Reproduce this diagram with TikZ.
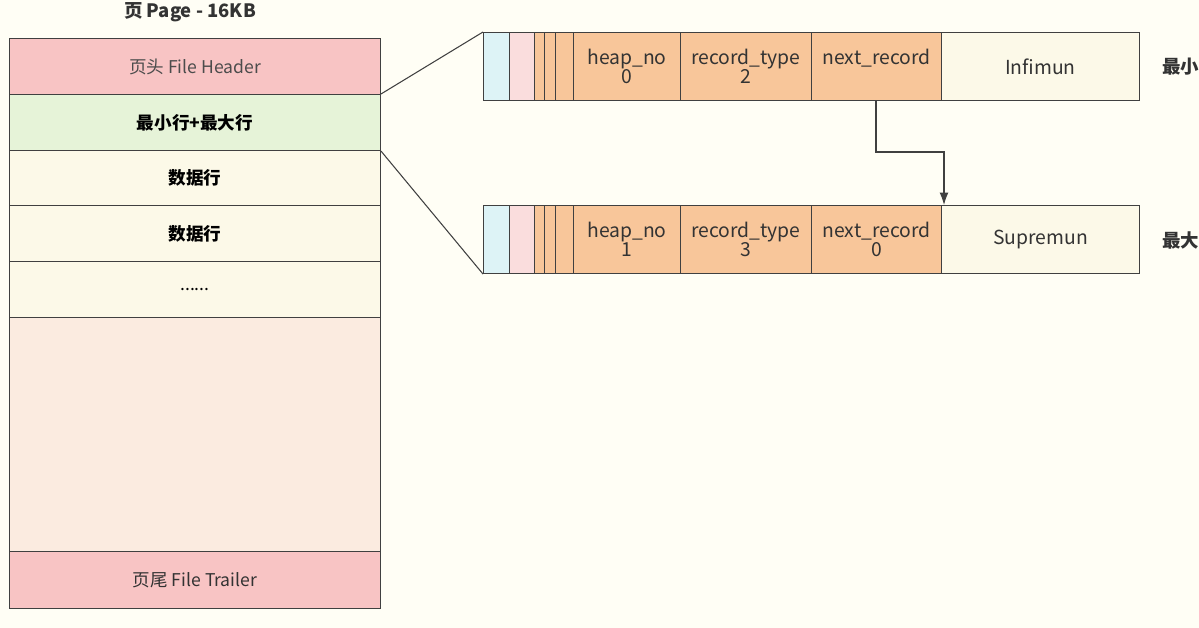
\documentclass[tikz,border=0pt]{standalone}
\usepackage{fontspec}
\setmainfont{Noto Sans CJK SC}
\begin{document}
\begin{tikzpicture}[x=0.02cm,y=-0.02cm,font=\fontsize{10}{12}\selectfont,
  box/.style={draw=black!75,line width=0.6pt},
  lbl/.style={text=black!80},
  rec/.style={box,fill=org,minimum height=1.36cm,anchor=north west,inner sep=0,align=center,lbl,font=\fontsize{11}{13}\selectfont},
  arr/.style={draw=black!75,line width=0.6pt,-{Latex[length=7pt,width=5pt]}}]
\usetikzlibrary{arrows.meta}
\definecolor{hdr}{HTML}{F8C4C4}
\definecolor{grn}{HTML}{E6F3D8}
\definecolor{crm}{HTML}{FCF9E8}
\definecolor{fre}{HTML}{FBEBE0}
\definecolor{cya}{HTML}{DDF3F6}
\definecolor{pnk}{HTML}{FADDDD}
\definecolor{org}{HTML}{F8C69A}
\fill[white!96!yellow] (0,0) rectangle (1199,628);
\useasboundingbox (0,0) rectangle (1199,628);
\clip (0,0) rectangle (1199,628);
\node[lbl,font=\fontsize{10.5}{12}\selectfont\bfseries] (title) at (190,12) {页 Page - 16KB};
% left column
\node[box,fill=hdr,minimum width=7.42cm,minimum height=1.12cm,anchor=north west,text=black!70] (fh) at (9,38) {页头 File Header};
\node[box,fill=grn,minimum width=7.42cm,minimum height=1.12cm,anchor=north west,font=\fontsize{10}{12}\selectfont\bfseries] (mm) at (9,94) {最小行+最大行};
\node[box,fill=crm,minimum width=7.42cm,minimum height=1.1cm,anchor=north west,font=\fontsize{10}{12}\selectfont\bfseries] (d1) at (9,150) {数据行};
\node[box,fill=crm,minimum width=7.42cm,minimum height=1.12cm,anchor=north west,font=\fontsize{10}{12}\selectfont\bfseries] (d2) at (9,205) {数据行};
\node[box,fill=crm,minimum width=7.42cm,minimum height=1.12cm,anchor=north west] (dots) at (9,261) {......};
\node[box,fill=fre,minimum width=7.42cm,minimum height=4.68cm,anchor=north west] (free) at (9,317) {};
\node[box,fill=hdr,minimum width=7.42cm,minimum height=1.14cm,anchor=north west,text=black!80] (ft) at (9,551) {页尾 File Trailer};
% records
\foreach \r/\y/\h/\t/\n/\name in {a/32/0/2/{}/Infimun, b/205/1/3/0/Supremun}{
  \node[box,fill=cya,minimum width=0.52cm,minimum height=1.36cm,anchor=north west,inner sep=0] (\r c) at (483,\y) {};
  \node[box,fill=pnk,minimum width=0.5cm,minimum height=1.36cm,anchor=north west,inner sep=0] (\r p) at (509,\y) {};
  \node[rec,minimum width=0.2cm] (\r o1) at (534,\y) {};
  \node[rec,minimum width=0.22cm] (\r o2) at (544,\y) {};
  \node[rec,minimum width=0.36cm] (\r o3) at (555,\y) {};
  \node[rec,minimum width=2.14cm] (\r h) at (573,\y) {heap\_no\\[-2pt]\h};
  \node[rec,minimum width=2.62cm] (\r t) at (680,\y) {record\_type\\[-2pt]\t};
  \node[rec,minimum width=2.6cm] (\r n) at (811,\y) {next\_record\\[-2pt]\n\vphantom{0}};
  \node[rec,fill=crm,minimum width=3.96cm] (\r s) at (941,\y) {\name};
}
\node[anchor=west,font=\fontsize{10.5}{12}\selectfont\bfseries,lbl] (lmin) at (1156,67) {最小};
\node[anchor=west,font=\fontsize{10.5}{12}\selectfont\bfseries,lbl] (lmax) at (1156,240) {最大};
% connectors
\draw[draw=black!75,line width=0.6pt] (mm.north east) -- (ac.north west);
\draw[draw=black!75,line width=0.6pt] (mm.south east) -- (bc.south west);
\coordinate (k1) at (876,152);
\coordinate (k2) at (944,152);
\draw[arr] (an.south -| k1) -- (k1) -- (k2) -- (k2 |- bs.north);
\end{tikzpicture}
\end{document}
